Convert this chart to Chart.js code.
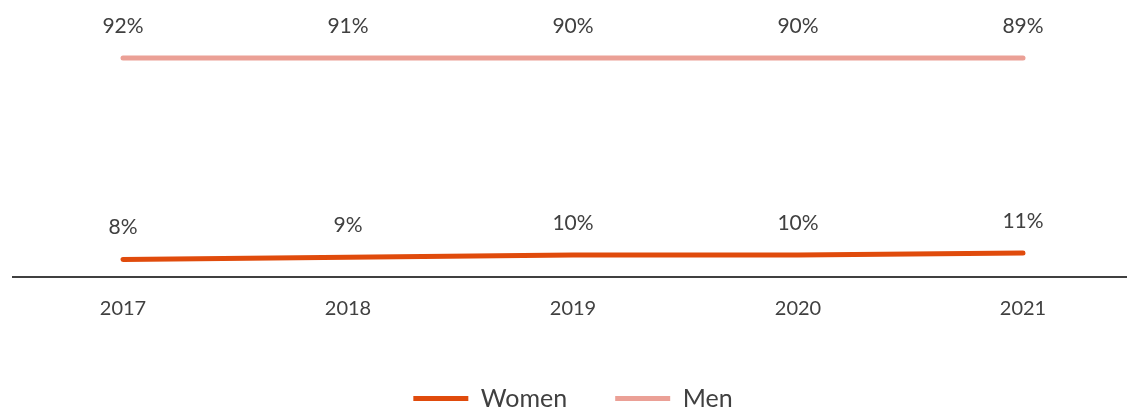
<!DOCTYPE html>
<html>
<head>
<meta charset="utf-8">
<script src="https://cdn.jsdelivr.net/npm/chart.js@4/dist/chart.umd.min.js"></script>
<style>
  html, body { margin: 0; padding: 0; background: #fff; overflow: hidden; }
  #wrap { width: 1127px; height: 407px; }
</style>
</head>
<body>
<div id="wrap"><canvas id="c"></canvas></div>
<script>
const years = ["2017", "2018", "2019", "2020", "2021"];
const women = [8, 9, 10, 10, 11];
const men = [92, 91, 90, 90, 89];

const textColor = "#404040";
const fontFamily = "Lato, 'Open Sans', sans-serif";

// étiquettes de valeurs au-dessus des points
const valueLabels = {
    id: "valueLabels",
    afterDatasetsDraw(chart) {
        const ctx = chart.ctx;
        ctx.save();
        ctx.font = "21px " + fontFamily;
        ctx.fillStyle = textColor;
        ctx.textAlign = "center";
        ctx.textBaseline = "middle";
        chart.data.datasets.forEach((ds, i) => {
            chart.getDatasetMeta(i).data.forEach((pt, j) => {
                ctx.fillText(ds.data[j] + "%", pt.x, pt.y - 32);
            });
        });
        ctx.restore();
    }
};

// ligne de base qui déborde de la zone du graphique
const baseLine = {
    id: "baseLine",
    beforeDatasetsDraw(chart) {
        const ctx = chart.ctx;
        const y = chart.scales.y.getPixelForValue(0);
        ctx.save();
        ctx.strokeStyle = textColor;
        ctx.lineWidth = 2;
        ctx.beginPath();
        ctx.moveTo(12, y);
        ctx.lineTo(chart.width, y);
        ctx.stroke();
        ctx.restore();
    }
};

new Chart(document.getElementById("c"), {
    type: "line",
    data: {
        labels: years,
        datasets: [
            {
                label: "Women",
                data: women,
                borderColor: "#E04B0C",
                backgroundColor: "#E04B0C",
                borderWidth: 5,
                borderCapStyle: "round",
                pointRadius: 0,
                pointStyle: "line",
                fill: false,
                clip: false
            },
            {
                label: "Men",
                data: men,
                borderColor: "#EBA096",
                backgroundColor: "#EBA096",
                borderWidth: 5,
                borderCapStyle: "round",
                pointRadius: 0,
                pointStyle: "line",
                fill: false,
                clip: false
            }
        ]
    },
    options: {
        responsive: true,
        maintainAspectRatio: false,
        animation: false,
        layout: {
            padding: { top: 58, left: 123, right: 104, bottom: -14 }
        },
        plugins: {
            tooltip: { enabled: false },
            legend: {
                position: "bottom",
                labels: {
                    usePointStyle: true,
                    pointStyleWidth: 55,
                    color: textColor,
                    font: { family: fontFamily, size: 25 },
                    padding: 48
                }
            }
        },
        scales: {
            x: {
                offset: false,
                grid: { display: false },
                border: { display: false },
                ticks: {
                    color: textColor,
                    font: { family: fontFamily, size: 20 },
                    padding: 12
                },
                afterFit(scale) {
                    scale.height += 5;
                }
            },
            y: {
                display: false,
                stacked: true,
                min: 0,
                max: 100
            }
        }
    },
    plugins: [baseLine, valueLabels]
});
</script>
</body>
</html>
